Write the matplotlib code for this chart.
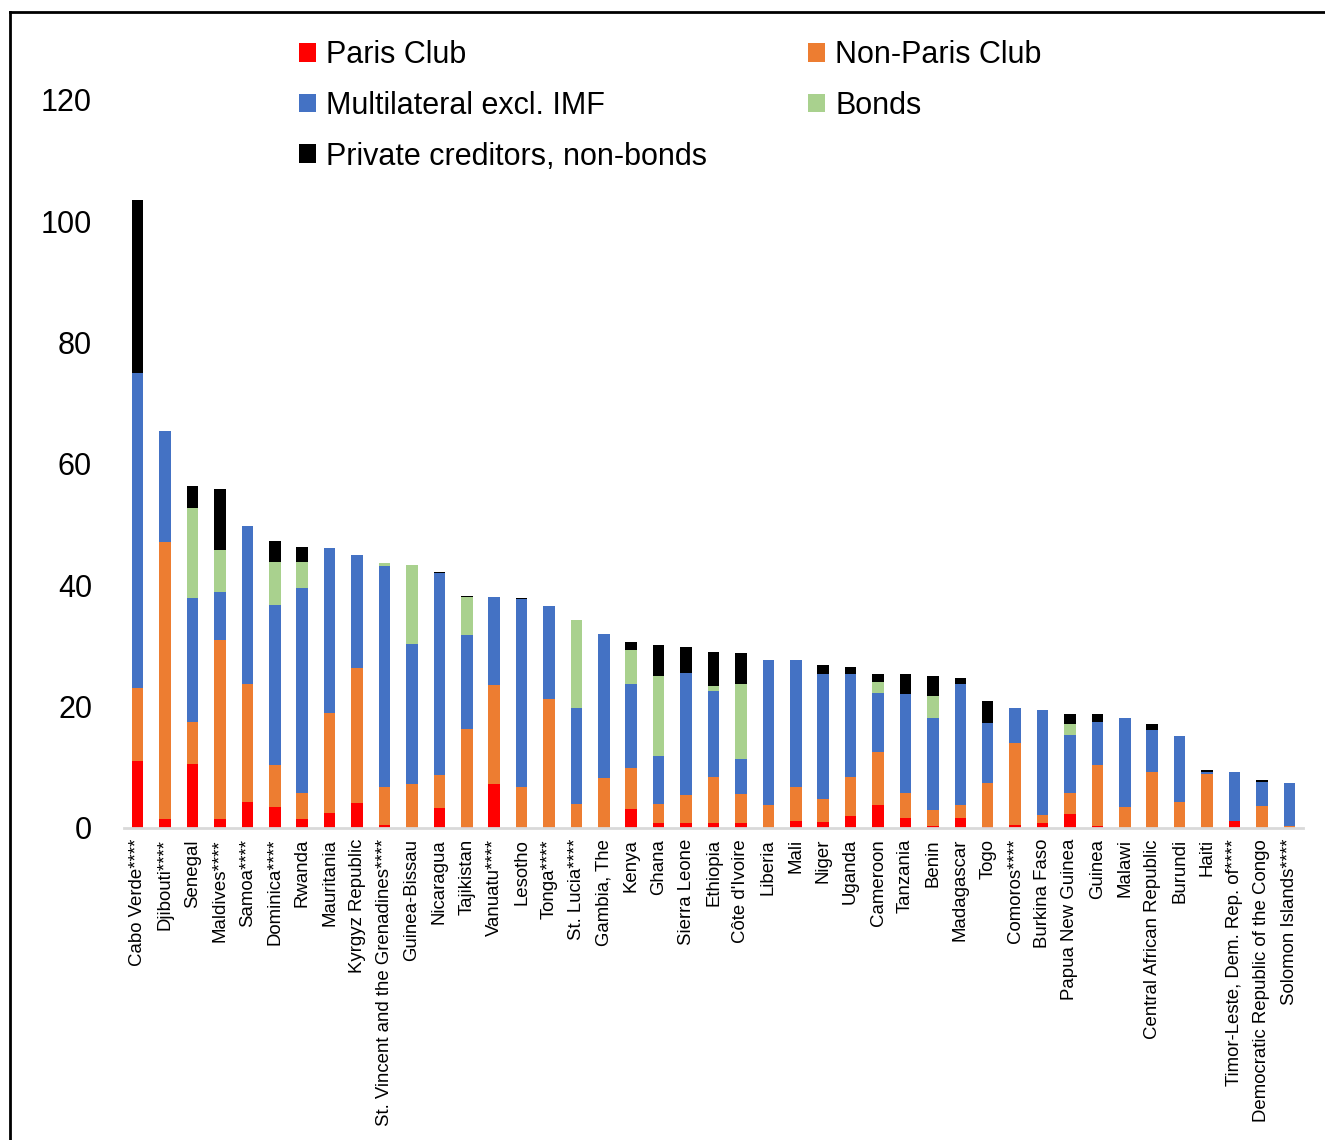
import matplotlib.pyplot as plt
import numpy as np
from matplotlib.patches import Patch
from matplotlib.lines import Line2D

plt.rcParams['font.family'] = ['Liberation Sans', 'DejaVu Sans']

# countries, ordered as in the chart
countries = [
    "Cabo Verde****", "Djibouti****", "Senegal", "Maldives****", "Samoa****",
    "Dominica****", "Rwanda", "Mauritania", "Kyrgyz Republic",
    "St. Vincent and the Grenadines****", "Guinea-Bissau", "Nicaragua",
    "Tajikistan", "Vanuatu****", "Lesotho", "Tonga****", "St. Lucia****",
    "Gambia, The", "Kenya", "Ghana", "Sierra Leone", "Ethiopia",
    "Côte d'Ivoire", "Liberia", "Mali", "Niger", "Uganda", "Cameroon",
    "Tanzania", "Benin", "Madagascar", "Togo", "Comoros****", "Burkina Faso",
    "Papua New Guinea", "Guinea", "Malawi", "Central African Republic",
    "Burundi", "Haiti", "Timor-Leste, Dem. Rep. of****",
    "Democratic Republic of the Congo", "Solomon Islands****",
]

# debt by creditor, percent of GDP
paris_club = [11.1, 1.5, 10.5, 1.5, 4.2, 3.4, 1.5, 2.4, 4.1, 0.5, 0.0, 3.3,
              0.2, 7.3, 0.0, 0.0, 0.0, 0.0, 3.1, 0.9, 0.9, 0.8, 0.8, 0.0,
              1.2, 1.0, 1.9, 3.8, 1.7, 0.4, 1.7, 0.1, 0.5, 0.9, 2.3, 0.3,
              0.0, 0.0, 0.0, 0.0, 1.2, 0.0, 0.0]
non_paris_club = [11.9, 45.7, 7.0, 29.4, 19.6, 6.9, 4.3, 16.5, 22.3, 6.2, 7.3, 5.4,
                  16.1, 16.3, 6.8, 21.3, 4.0, 8.3, 6.8, 3.1, 4.5, 7.6, 4.8, 3.8,
                  5.5, 3.8, 6.5, 8.7, 4.1, 2.6, 2.1, 7.3, 13.5, 1.3, 3.5, 10.0,
                  3.5, 9.3, 4.2, 8.9, 0.0, 3.6, 0.3]
multilateral = [51.9, 18.2, 20.4, 8.0, 26.0, 26.4, 33.7, 27.2, 18.5, 36.4, 23.0, 33.3,
                15.5, 14.4, 30.9, 15.3, 15.7, 23.6, 13.9, 7.8, 20.1, 14.1, 5.7, 23.8,
                20.9, 20.6, 17.0, 9.8, 16.2, 15.2, 19.9, 9.9, 5.8, 17.3, 9.5, 7.1,
                14.7, 6.9, 10.9, 0.3, 8.0, 4.0, 7.1]
bonds = [0.0, 0.0, 14.9, 6.9, 0.0, 7.1, 4.3, 0.0, 0.0, 0.5, 13.0, 0.0,
         6.2, 0.0, 0.0, 0.0, 14.5, 0.0, 5.5, 13.3, 0.0, 0.9, 12.4, 0.0,
         0.0, 0.0, 0.0, 1.7, 0.0, 3.5, 0.0, 0.0, 0.0, 0.0, 1.9, 0.0,
         0.0, 0.0, 0.0, 0.0, 0.0, 0.0, 0.0]
private_nonbonds = [28.6, 0.0, 3.6, 10.1, 0.0, 3.5, 2.5, 0.0, 0.0, 0.0, 0.0, 0.2,
                    0.3, 0.0, 0.2, 0.0, 0.0, 0.0, 1.3, 5.1, 4.4, 5.6, 5.1, 0.0,
                    0.0, 1.4, 1.1, 1.4, 3.4, 3.4, 1.0, 3.6, 0.0, 0.0, 1.6, 1.3,
                    0.0, 0.9, 0.0, 0.3, 0.0, 0.3, 0.0]

series = [
    ("Paris Club", paris_club, "#FF0000"),
    ("Non-Paris Club", non_paris_club, "#ED7D31"),
    ("Multilateral excl. IMF", multilateral, "#4472C4"),
    ("Bonds", bonds, "#A9D18E"),
    ("Private creditors, non-bonds", private_nonbonds, "#000000"),
]

fig = plt.figure(figsize=(13.25, 11.4), dpi=100)
ax = fig.add_axes([0.0936, 0.2737, 0.8898, 0.6921])

x = np.arange(len(countries))
bottom = np.zeros(len(countries))
for name, vals, col in series:
    vals = np.array(vals)
    ax.bar(x, vals, width=0.42, bottom=bottom, color=col, edgecolor='none', zorder=2)
    bottom += vals

ax.set_xlim(-0.5, len(countries) - 0.5)
ax.set_ylim(0, 130)
ax.set_yticks(np.arange(0, 121, 20))
ax.tick_params(axis='y', length=0, pad=23, labelsize=22)
ax.tick_params(axis='x', length=0, pad=8, labelsize=13.4)
ax.set_xticks(x)
ax.set_xticklabels(countries, rotation=90)
for s in ['top', 'right', 'left']:
    ax.spines[s].set_visible(False)
ax.spines['bottom'].set_color('#D9D9D9')
ax.spines['bottom'].set_linewidth(2)

# legend: column 1 = Paris, Multilateral, Private; column 2 = Non-Paris, Bonds
order = [0, 2, 4, 1, 3]
handles = [Patch(facecolor=series[i][2], edgecolor='none') for i in order]
labels = [series[i][0] for i in order]
ax.legend(handles, labels, ncol=2, loc='upper left',
          bbox_to_anchor=(299 / 1325, 1 - 40 / 1140), bbox_transform=fig.transFigure,
          frameon=False, fontsize=22, borderpad=0, borderaxespad=0,
          handlelength=0.56, handleheight=0.56, handletextpad=0.33,
          labelspacing=0.68, columnspacing=3.3)

# outer frame (partly cut off in the original)
fig.add_artist(Line2D([10 / 1325, 1.0], [1 - 12 / 1140, 1 - 12 / 1140],
                      transform=fig.transFigure, color='black', lw=2))
fig.add_artist(Line2D([10 / 1325, 10 / 1325], [0.0, 1 - 12 / 1140],
                      transform=fig.transFigure, color='black', lw=2))

fig.savefig('out.png', dpi=100, facecolor='white')
